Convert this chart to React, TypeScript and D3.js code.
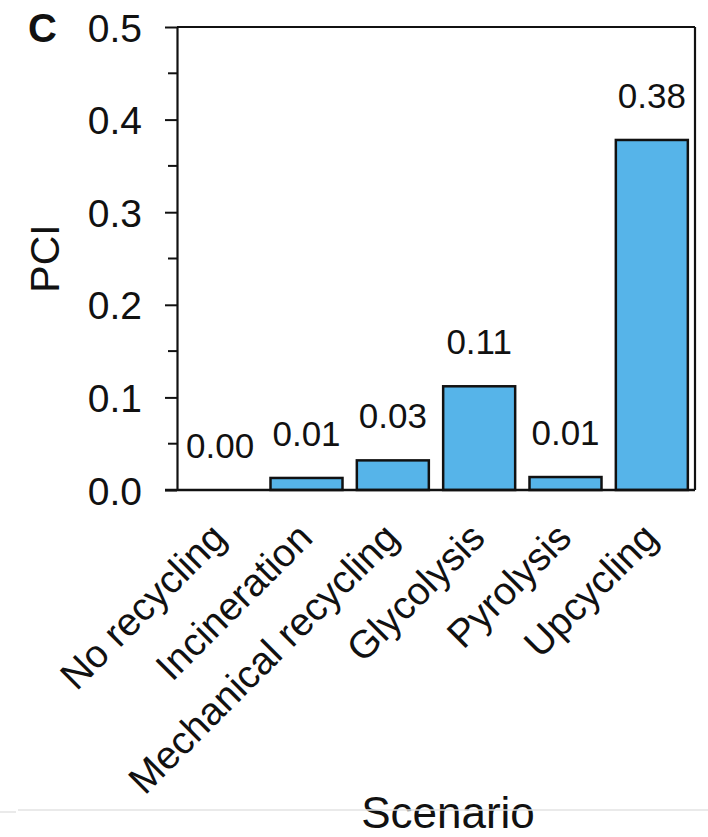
import React, { useEffect, useRef } from 'react';
import * as d3 from 'd3';

const categories = ["No recycling", "Incineration", "Mechanical recycling", "Glycolysis", "Pyrolysis", "Upcycling"];
const pciValues = [0.0, 0.013, 0.032, 0.112, 0.014, 0.378];
const valueLabels = ["0.00", "0.01", "0.03", "0.11", "0.01", "0.38"];
const majorTicks = [0, 0.1, 0.2, 0.3, 0.4, 0.5];
const minorTicks = [0.05, 0.15, 0.25, 0.35, 0.45];

const FONT = "'Liberation Sans', Arial, Helvetica, sans-serif";

const App = () => {
    const svgRef = useRef<SVGSVGElement>(null);

    useEffect(() => {
        const svg = d3.select(svgRef.current);
        svg.selectAll("*").remove();

        const left = 177, right = 695, top = 27, bottom = 490;

        const x = d3.scaleBand()
            .domain(categories)
            .range([left, right])
            .paddingInner(0.166)
            .paddingOuter(0.083);

        const y = d3.scaleLinear()
            .domain([0, 0.5])
            .range([bottom, top]);

        const data = categories.map((c, i) => ({ cat: c, value: pciValues[i], label: valueLabels[i] }));

        // bars
        svg.selectAll(".bar")
            .data(data.filter(d => d.value > 0))
            .enter()
            .append("rect")
            .attr("class", "bar")
            .attr("x", d => x(d.cat))
            .attr("y", d => y(d.value))
            .attr("width", x.bandwidth())
            .attr("height", d => bottom - y(d.value))
            .attr("fill", "#56B4E9")
            .attr("stroke", "#111")
            .attr("stroke-width", 2.5);

        // value labels
        svg.selectAll(".vlabel")
            .data(data)
            .enter()
            .append("text")
            .attr("class", "vlabel")
            .attr("x", d => x(d.cat) + x.bandwidth() / 2)
            .attr("y", d => y(d.value) - 32)
            .attr("text-anchor", "middle")
            .style("font-family", FONT)
            .style("font-size", "35px")
            .attr("fill", "#111")
            .text(d => d.label);

        // frame
        const frame = svg.append("g").attr("stroke", "#111").attr("stroke-width", 2.2).attr("fill", "none");
        frame.append("line").attr("x1", left).attr("x2", right).attr("y1", top).attr("y2", top);
        frame.append("line").attr("x1", right).attr("x2", right).attr("y1", top).attr("y2", bottom);

        // y axis with major and minor ticks
        const yAxis = svg.append("g").attr("transform", `translate(${left},0)`);
        yAxis.call(d3.axisLeft(y).tickValues(majorTicks).tickSize(12).tickSizeOuter(0).tickFormat(d3.format(".1f")))
            .call(g => g.select(".domain").attr("stroke", "#111").attr("stroke-width", 2.2))
            .call(g => g.selectAll(".tick line").attr("stroke", "#111").attr("stroke-width", 2))
            .call(g => g.selectAll(".tick text")
                .attr("x", -35)
                .attr("dy", "0.36em")
                .attr("fill", "#111")
                .style("font-family", FONT)
                .style("font-size", "39px"));
        yAxis.selectAll(".minor")
            .data(minorTicks)
            .enter()
            .append("line")
            .attr("class", "minor")
            .attr("x1", -9)
            .attr("x2", 0)
            .attr("y1", d => y(d))
            .attr("y2", d => y(d))
            .attr("stroke", "#111")
            .attr("stroke-width", 2);

        // x axis
        svg.append("line")
            .attr("x1", left - 12).attr("x2", right)
            .attr("y1", bottom).attr("y2", bottom)
            .attr("stroke", "#111").attr("stroke-width", 2.4);

        svg.selectAll(".xlabel")
            .data(categories)
            .enter()
            .append("text")
            .attr("class", "xlabel")
            .attr("transform", d => `translate(${x(d) + x.bandwidth() / 2 + 8},${bottom + 50}) rotate(-45)`)
            .attr("text-anchor", "end")
            .style("font-family", FONT)
            .style("font-size", "39px")
            .attr("fill", "#111")
            .text(d => d);

        // titles
        svg.append("text")
            .attr("transform", `translate(59,${(top + bottom) / 2}) rotate(-90)`)
            .attr("text-anchor", "middle")
            .style("font-family", FONT)
            .style("font-size", "41px")
            .attr("fill", "#111")
            .text("PCI");

        svg.append("text")
            .attr("x", 448)
            .attr("y", 828)
            .attr("text-anchor", "middle")
            .style("font-family", FONT)
            .style("font-size", "44px")
            .attr("fill", "#111")
            .text("Scenario");

        svg.append("text")
            .attr("x", 28)
            .attr("y", 42)
            .style("font-family", FONT)
            .style("font-size", "40px")
            .style("font-weight", "bold")
            .attr("fill", "#111")
            .text("C");

        // faint screenshot edge line
        svg.append("line")
            .attr("x1", 18).attr("x2", 708).attr("y1", 810).attr("y2", 810)
            .attr("stroke", "#e3e3e3").attr("stroke-width", 1.5);
        svg.append("line")
            .attr("x1", 0).attr("x2", 16).attr("y1", 812).attr("y2", 812)
            .attr("stroke", "#e3e3e3").attr("stroke-width", 1.5);
    }, []);

    return (
        <svg
            ref={svgRef}
            width={708}
            height={837}
            style={{ position: "absolute", top: 0, left: 0, background: "white" }}
        />
    );
};

export default App;
